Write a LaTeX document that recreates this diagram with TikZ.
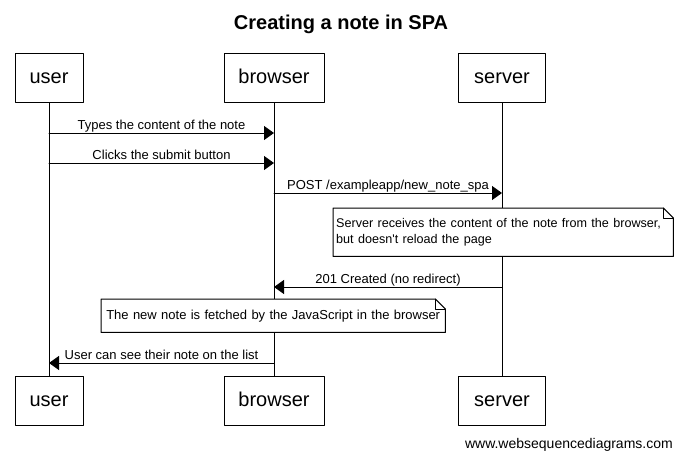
\documentclass[tikz,border=0pt]{standalone}
\usepackage{fontspec}
\setmainfont{Liberation Sans}
\usepackage{tikz}
\usetikzlibrary{arrows}
\usetikzlibrary{arrows.meta}

\begin{document}
\begin{tikzpicture}[line cap=round,line join=round,>={Triangle[length=10pt,width=14pt]},x=1.0pt,y=-1.0pt,
  actor/.style={draw,line width=1pt,minimum width=#1,minimum height=49pt,inner sep=0pt,text height=11pt,text depth=0pt,font=\fontsize{20}{24}\selectfont},
  msg/.style={line width=1pt,->},
  lbl/.style={font=\fontsize{13}{16}\selectfont,inner sep=0pt,anchor=base,yshift=4pt},
  notebox/.style={fill=white,inner xsep=3pt,inner ysep=5pt,font=\fontsize{13}{16}\selectfont}]
\useasboundingbox (0,0) rectangle (683,459);
%\draw[red] (0,0) rectangle (683,459);
\node[font=\bfseries\fontsize{20}{24}\selectfont,anchor=base,inner sep=0pt] (title) at (341,29) {Creating a note in SPA};
% participants, top and bottom
\node[actor=68pt] (user) at (49,77.5) {user};
\node[actor=100pt] (browser) at (274,77.5) {browser};
\node[actor=87pt] (server) at (502,77.5) {server};
\node[actor=68pt] (userB) at (49,401) {user};
\node[actor=100pt] (browserB) at (274,401) {browser};
\node[actor=87pt] (serverB) at (502,401) {server};
\draw[line width=1pt] (user) -- (userB);
\draw[line width=1pt] (browser) -- (browserB);
\draw[line width=1pt] (server) -- (serverB);
% points on the lifelines
\coordinate (u1) at (49,133);
\coordinate (b1) at (274,133);
\coordinate (u2) at (49,163);
\coordinate (b2) at (274,163);
\coordinate (b3) at (274,193);
\coordinate (s3) at (502,193);
\coordinate (s5) at (502,287);
\coordinate (b5) at (274,287);
\coordinate (b7) at (274,363);
\coordinate (u7) at (49,363);
% messages
\draw[msg] (u1) -- (b1) node[lbl,midway] {Types the content of the note};
\draw[msg] (u2) -- (b2) node[lbl,midway] {Clicks the submit button};
\draw[msg] (b3) -- (s3) node[lbl,midway] {POST /exampleapp/new\_note\_spa};
% note on server
\node[notebox,text width=334pt,minimum height=48pt,anchor=north west,align=left] (note1) at (333,208)
  {\fontsize{12.6}{16}\selectfont Server receives the content of the note from the browser,\\but doesn\textquotesingle t reload the page};
\draw[line width=1pt] (note1.north west) -- ([xshift=-10pt]note1.north east) -- ([yshift=-10pt]note1.north east) -- (note1.south east) -- (note1.south west) -- cycle;
\draw[line width=1pt] ([xshift=-10pt]note1.north east) -- ([xshift=-10pt,yshift=-10pt]note1.north east) -- ([yshift=-10pt]note1.north east);
\draw[msg] (s5) -- (b5) node[lbl,midway] {201 Created (no redirect)};
% note on browser
\node[notebox,text width=338pt,minimum height=33pt,anchor=north west,align=center] (note2) at (101,299)
  {The new note is fetched by the JavaScript in the browser};
\draw[line width=1pt] (note2.north west) -- ([xshift=-10pt]note2.north east) -- ([yshift=-10pt]note2.north east) -- (note2.south east) -- (note2.south west) -- cycle;
\draw[line width=1pt] ([xshift=-10pt]note2.north east) -- ([xshift=-10pt,yshift=-10pt]note2.north east) -- ([yshift=-10pt]note2.north east);
\draw[msg] (b7) -- (u7) node[lbl,midway] {User can see their note on the list};
\node[anchor=base east,inner sep=0pt,font=\fontsize{14}{16}\selectfont] (site) at (673,448) {www.websequencediagrams.com};
\end{tikzpicture}
\end{document}
